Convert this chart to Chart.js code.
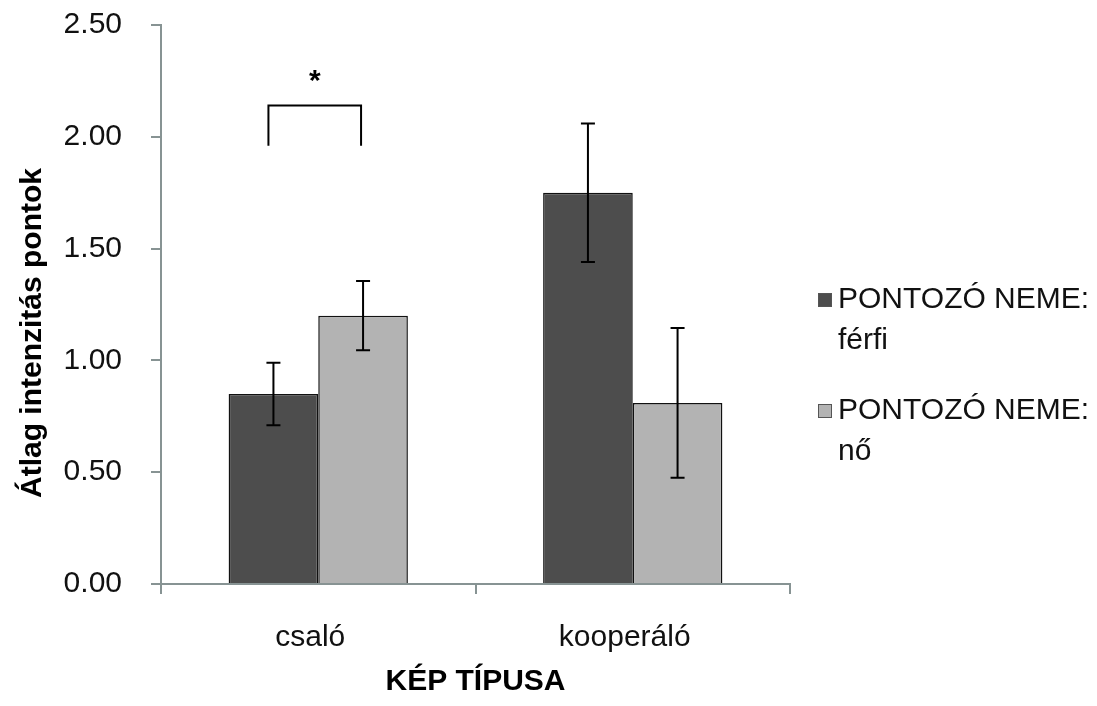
<!DOCTYPE html>
<html>
<head>
<meta charset="utf-8">
<script src="https://cdn.jsdelivr.net/npm/chart.js@4/dist/chart.umd.min.js"></script>
<style>
  html, body { margin: 0; padding: 0; background: #fff; }
  #wrap { width: 1097px; height: 706px; position: relative; }
</style>
</head>
<body>
<div id="wrap"><canvas id="chart"></canvas></div>
<script>
// kategóriák és átlagok
var kategoriak = ['csaló', 'kooperáló'];
var ferfi = [0.85, 1.75];
var ferfiHiba = [0.14, 0.31];
var no = [1.20, 0.81];
var noHiba = [0.155, 0.335];
var sorozatNevek = ['PONTOZÓ NEME: férfi', 'PONTOZÓ NEME: nő'];
var yTicks = [0, 0.5, 1, 1.5, 2, 2.5];

// szignifikancia jelölés a csaló oszlopok felett
var jelFelso = 2.14;
var jelAlso = 1.96;
var jelCsillag = 2.21;

var FONT = "'Liberation Sans', Arial, sans-serif";
var tengelySzin = '#879393';

var hibaPlugin = {
	id: 'hibavonalak',
	afterDatasetsDraw: function(chart) {
		var ctx = chart.ctx;
		var y = chart.scales.y;
		var hibak = [ferfiHiba, noHiba];
		ctx.save();
		ctx.strokeStyle = '#000';
		ctx.lineWidth = 2;
		chart.data.datasets.forEach(function(ds, di) {
			chart.getDatasetMeta(di).data.forEach(function(bar, i) {
				var v = ds.data[i], e = hibak[di][i];
				var yt = y.getPixelForValue(v + e), yb = y.getPixelForValue(v - e);
				ctx.beginPath();
				ctx.moveTo(bar.x, yt); ctx.lineTo(bar.x, yb);
				ctx.moveTo(bar.x - 7, yt); ctx.lineTo(bar.x + 7, yt);
				ctx.moveTo(bar.x - 7, yb); ctx.lineTo(bar.x + 7, yb);
				ctx.stroke();
			});
		});

		// csillag és zárójel
		var b1 = chart.getDatasetMeta(0).data[0], b2 = chart.getDatasetMeta(1).data[0];
		var x1 = b1.x - 5, x2 = b2.x - 2;
		ctx.lineWidth = 2;
		ctx.beginPath();
		ctx.moveTo(x1, y.getPixelForValue(jelAlso));
		ctx.lineTo(x1, y.getPixelForValue(jelFelso));
		ctx.lineTo(x2, y.getPixelForValue(jelFelso));
		ctx.lineTo(x2, y.getPixelForValue(jelAlso));
		ctx.stroke();
		ctx.fillStyle = '#000';
		ctx.font = 'bold 30px ' + FONT;
		ctx.textAlign = 'center';
		ctx.textBaseline = 'alphabetic';
		ctx.fillText('*', (x1 + x2) / 2, y.getPixelForValue(jelCsillag));
		ctx.restore();
	},
	afterDraw: function(chart) {
		var ctx = chart.ctx;
		ctx.save();
		// y tengely címe
		ctx.translate(33, 333);
		ctx.rotate(-Math.PI / 2);
		ctx.fillStyle = '#000';
		ctx.font = 'bold 30px ' + FONT;
		ctx.textAlign = 'center';
		ctx.textBaseline = 'middle';
		ctx.fillText('Átlag intenzitás pontok', 0, 0);
		ctx.restore();

		// jelmagyarázat, két sorra tördelve
		ctx.save();
		ctx.font = '30px ' + FONT;
		ctx.textBaseline = 'middle';
		ctx.textAlign = 'left';
		chart.data.datasets.forEach(function(ds, i) {
			var top = 300 + i * 111;
			ctx.fillStyle = ds.backgroundColor;
			ctx.fillRect(818, top - 7, 14, 14);
			ctx.strokeStyle = '#555';
			ctx.lineWidth = 1;
			ctx.strokeRect(818.5, top - 6.5, 13, 13);
			ctx.fillStyle = '#111';
			var reszek = ds.label.split(': ');
			ctx.fillText(reszek[0] + ':', 838, top);
			ctx.fillText(reszek[1], 838, top + 41);
		});
		ctx.restore();
	}
};

new Chart(document.getElementById('chart'), {
	type: 'bar',
	data: {
		labels: kategoriak,
		datasets: [
			{ label: sorozatNevek[0], data: ferfi, backgroundColor: '#4d4d4d', borderColor: '#111', borderWidth: 1.5 },
			{ label: sorozatNevek[1], data: no, backgroundColor: '#b3b3b3', borderColor: '#111', borderWidth: 1.5 }
		]
	},
	plugins: [hibaPlugin],
	options: {
		responsive: true,
		maintainAspectRatio: false,
		animation: false,
		devicePixelRatio: 1,
		layout: { padding: { top: 25, right: 307, bottom: 0, left: 0 } },
		datasets: { bar: { categoryPercentage: 0.57, barPercentage: 1 } },
		plugins: { legend: { display: false }, tooltip: { enabled: false } },
		scales: {
			x: {
				grid: { drawOnChartArea: false, color: tengelySzin, tickLength: 10, lineWidth: 2 },
				border: { color: tengelySzin, width: 2 },
				ticks: { color: '#111', padding: 26, labelOffset: -8, font: { family: FONT, size: 30 } },
				title: { display: true, text: 'KÉP TÍPUSA', color: '#000', padding: { top: 0, bottom: 6 },
					font: { family: FONT, size: 30, weight: 'bold' } },
				afterFit: function(s) { s.height = 122; s.paddingLeft = 0; s.paddingRight = 0; }
			},
			y: {
				min: 0, max: 2.5,
				afterBuildTicks: function(s) { s.ticks = yTicks.map(function(v) { return { value: v }; }); },
				grid: { drawOnChartArea: false, color: tengelySzin, tickLength: 10, lineWidth: 2 },
				border: { color: tengelySzin, width: 2 },
				ticks: { color: '#111', padding: 29, font: { family: FONT, size: 30 },
					callback: function(v) { return v.toFixed(2); } },
				afterFit: function(s) { s.width = 161; s.paddingTop = 0; s.paddingBottom = 0; }
			}
		}
	}
});
</script>
</body>
</html>
